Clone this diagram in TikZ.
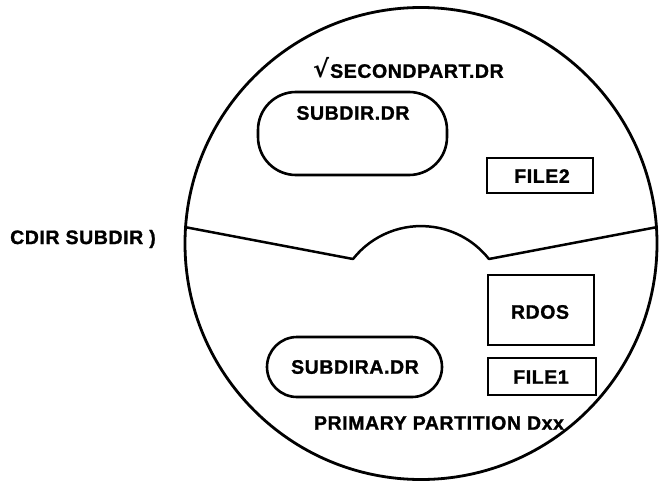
\documentclass[tikz,border=0pt]{standalone}
\usepackage{fontspec}
\setmainfont{Liberation Sans}[BoldFeatures={FakeBold=1.2, LetterSpace=3}]
\newfontfamily\dvs{DejaVu Sans}
\tikzset{
  lbl/.style={font=\fontsize{19.5}{22}\selectfont\bfseries, inner sep=0pt},
  filebox/.style={draw, line width=2.8pt, inner sep=0pt, minimum width=106pt},
  dirbox/.style={draw, line width=2.6pt, rounded corners=30pt, inner sep=0pt},
  outline/.style={line width=2.8pt},
  divider/.style={line width=2.5pt, line join=round}
}
\begin{document}
\begin{tikzpicture}[x=1pt,y=-1pt]
\useasboundingbox (0,0) rectangle (661,487);
% disk
\node[circle, draw, outline, minimum size=472pt, inner sep=0pt] (disk) at (421,243.5) {};
% divider with notch
\coordinate (dl) at (353,259);
\coordinate (dr) at (489,260);
\draw[divider] (disk.176) -- (dl) arc[start angle=-141.7, end angle=-38.3, radius=86.6] -- (disk.4);
% upper partition
\node[lbl, anchor=west] (second) at (313,68) {{\fontsize{24}{24}\selectfont\dvs √}\hspace{1pt}SECONDPART.DR};
\node[dirbox, rounded corners=38pt, minimum width=189pt, minimum height=83pt] (subdir) at (352.5,133.5) {};
\node[lbl] (subdirt) at (353,113) {SUBDIR.DR};
\node[filebox, minimum height=35pt] (file2) at (540,175.5) {};
\node[lbl] (file2t) at (542,176) {FILE2};
% lower partition
\node[filebox, minimum height=70pt] (rdos) at (541,310) {};
\node[lbl] (rdost) at (540,312) {RDOS};
\node[filebox, minimum width=108pt, minimum height=37pt] (file1) at (542,376.5) {};
\node[lbl] (file1t) at (541,377) {FILE1};
\node[dirbox, minimum width=175pt, minimum height=60pt] (subdira) at (354.5,367) {};
\node[lbl] (subdirat) at (355,367) {SUBDIRA.DR};
\node[lbl] (primary) at (439,423) {PRIMARY PARTITION Dxx};
% command
\node[lbl, anchor=west] (cmd) at (10,239) {CDIR SUBDIR )};
\end{tikzpicture}
\end{document}
